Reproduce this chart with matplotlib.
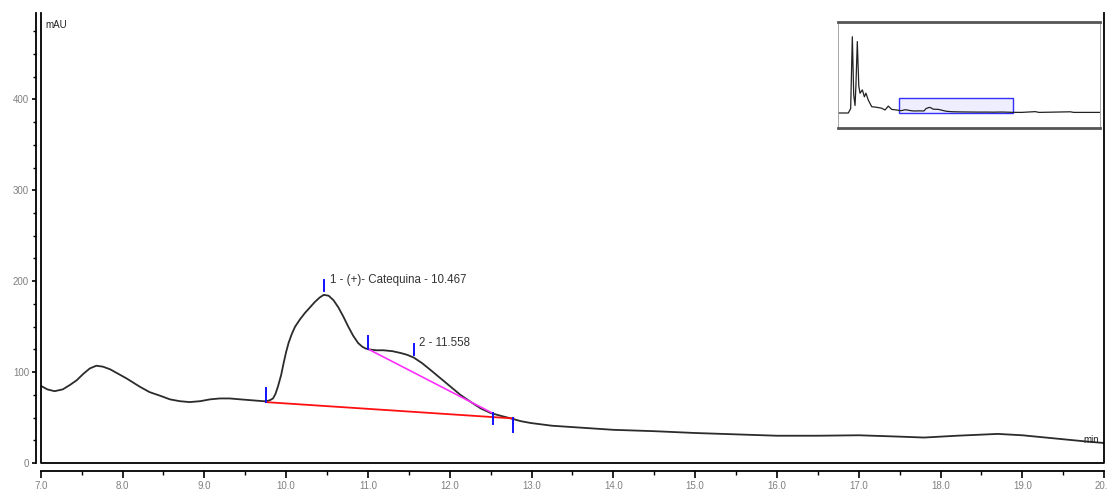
import matplotlib
matplotlib.use("Agg")
import matplotlib.pyplot as plt
from matplotlib.patches import Rectangle
from matplotlib.ticker import MultipleLocator, FixedLocator, FuncFormatter

plt.rcParams['font.family'] = ['Liberation Sans', 'DejaVu Sans']

# ---- data ----
time = [7.0, 7.08, 7.17, 7.27, 7.36, 7.44, 7.52, 7.60, 7.68, 7.76, 7.85, 7.93, 8.05, 8.21,
        8.33, 8.46, 8.58, 8.70, 8.82, 8.95, 9.07, 9.19, 9.31, 9.44, 9.58, 9.72, 9.76, 9.80,
        9.84, 9.87, 9.90, 9.94, 9.97, 10.0, 10.03, 10.07, 10.11, 10.17, 10.23, 10.29, 10.35,
        10.41, 10.46, 10.52, 10.58, 10.64, 10.70, 10.76, 10.82, 10.88, 10.93, 10.97, 11.01,
        11.10, 11.19, 11.30, 11.40, 11.48, 11.56, 11.66, 11.77, 11.89, 12.01, 12.13, 12.26,
        12.38, 12.50, 12.62, 12.75, 12.87, 12.99, 13.25, 13.5, 13.75, 14.0, 14.5, 15.0, 15.5,
        16.0, 16.5, 17.0, 17.5, 17.8, 18.2, 18.7, 19.0, 19.4, 19.8, 20.0]
signal = [85, 81, 79, 81, 86, 91, 98, 104, 107, 106, 103, 99, 93, 84,
          78, 74, 70, 68, 67, 68, 70, 71, 71, 70, 69, 68, 68, 69,
          71, 76, 84, 97, 110, 122, 132, 142, 150, 158, 165, 171, 177,
          182, 185, 184, 179, 171, 161, 150, 140, 132, 128, 126, 125,
          124, 124, 123, 121, 119, 116, 110, 102, 93, 84, 75, 67,
          60, 55, 52, 49, 46, 44, 41, 39.5, 38, 36.5, 35, 33, 31.5,
          30, 30, 30.5, 29, 28, 30, 32, 30.5, 27, 23.5, 22]

# integration baselines
red_base_t = [9.75, 12.78]
red_base_v = [67, 49]
mag_base_t = [11.01, 12.52]
mag_base_v = [125, 55]

# blue event marks (time, low, high)
mark_t = [9.75, 11.0, 12.53, 12.77, 10.467, 11.558]
mark_lo = [67, 125, 43, 34, 189, 119]
mark_hi = [83, 140, 55, 49, 201, 131]

# peak labels
peak_labels = ["1 - (+)- Catequina - 10.467", "2 - 11.558"]
peak_label_t = [10.54, 11.62]
peak_label_v = [201, 132]

# x/y ticks
x_major = [7.0, 8.0, 9.0, 10.0, 11.0, 12.0, 13.0, 14.0, 15.0, 16.0, 17.0, 18.0, 19.0, 20.0]
y_major = [0, 100, 200, 300, 400]

# overview inset chromatogram (full run)
ins_pre_t = [0, 1.18, 1.45, 1.64, 1.80, 1.95, 2.05, 2.21, 2.38, 2.52, 2.79, 3.02, 3.2,
             3.47, 3.86, 4.43, 5.0, 5.38, 5.76, 6.15, 6.72]
ins_pre_v = [0, 0, 150, 2540, 600, 250, 900, 2380, 900, 660, 770, 540, 660,
             430, 210, 190, 160, 100, 230, 120, 100]
ins_post_t = [21.0, 22.6, 23.0, 26.6, 27.0, 30.0]
ins_post_v = [20, 45, 20, 40, 20, 20]

# ---- figure ----
W, H = 1107, 494
fig = plt.figure(figsize=(W / 100, H / 100), dpi=100)
ax = fig.add_axes([40.7 / W, 31 / H, 1063.4 / W, 450 / H])
ax.set_xlim(7, 20)
ax.set_ylim(0, 495)

ax.plot(time, signal, color='#2b2b2b', lw=1.3, solid_joinstyle='round', zorder=3)
ax.plot(red_base_t, red_base_v, color='#ff1010', lw=1.3, zorder=4)
ax.plot(mag_base_t, mag_base_v, color='#ff30ff', lw=1.2, zorder=4)
for t, lo, hi in zip(mark_t, mark_lo, mark_hi):
    ax.plot([t, t], [lo, hi], color='#1010ff', lw=1.4, zorder=5)
for s, t, v in zip(peak_labels, peak_label_t, peak_label_v):
    ax.text(t, v, s, fontsize=8.3, color='#333333', va='center', ha='left')

# frame box (inner lines)
ax.plot([0, 0, 1, 1], [1, 0, 0, 1], transform=ax.transAxes, color='black',
        lw=1.3, clip_on=False, zorder=6)
ax.spines['top'].set_visible(False)
ax.spines['right'].set_visible(False)
ax.spines['left'].set_position(('outward', 3.4))
ax.spines['bottom'].set_position(('outward', 6.1))
ax.spines['left'].set_linewidth(1.3)
ax.spines['bottom'].set_linewidth(1.3)

ax.xaxis.set_major_locator(FixedLocator(x_major))
ax.xaxis.set_minor_locator(MultipleLocator(0.5))
ax.yaxis.set_major_locator(FixedLocator(y_major))
ax.yaxis.set_minor_locator(MultipleLocator(25))
ax.xaxis.set_major_formatter(FuncFormatter(lambda v, p: f"{v:.1f}"))
ax.yaxis.set_major_formatter(FuncFormatter(lambda v, p: f"{v:.0f}"))
ax.tick_params(axis='x', which='major', length=5, width=1.2, labelsize=7,
               labelcolor='#808080', pad=2)
ax.tick_params(axis='x', which='minor', length=3, width=1.0)
ax.tick_params(axis='y', which='major', length=3, width=1.2, labelsize=7,
               labelcolor='#808080', pad=2)
ax.tick_params(axis='y', which='minor', length=2.5, width=1.0)

ax.text(45 / W, 1 - 25 / H, "mAU", transform=fig.transFigure, fontsize=7,
        color='#222222', va='center', ha='left')
ax.text(1083 / W, 1 - 440 / H, "min", transform=fig.transFigure, fontsize=7,
        color='#222222', va='center', ha='left')

# ---- inset overview ----
ins = fig.add_axes([838 / W, 1 - 128 / H, 262 / W, 106.3 / H])
ins.set_xlim(0, 30)
ins.set_ylim(-500, 3043)
ins_t = ins_pre_t + time + ins_post_t
ins_v = ins_pre_v + signal + ins_post_v
ins.add_patch(Rectangle((7, 0), 13, 500, facecolor='#eeeeff', edgecolor='#3030ff',
                        lw=1.0, zorder=1))
ins.plot(ins_t, ins_v, color='#222222', lw=0.9, zorder=2)
ins.set_xticks([])
ins.set_yticks([])
for side in ['top', 'bottom']:
    ins.spines[side].set_linewidth(2.0)
    ins.spines[side].set_color('#555555')
for side in ['left', 'right']:
    ins.spines[side].set_linewidth(0.6)
    ins.spines[side].set_color('#999999')

fig.savefig("out.png", dpi=100)
